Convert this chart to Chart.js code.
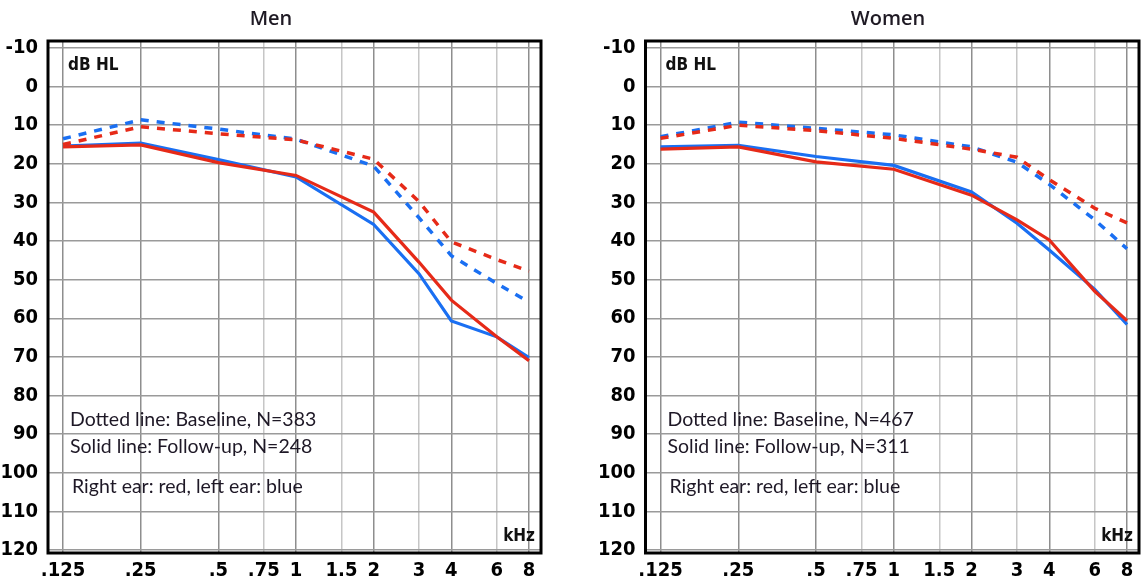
<!DOCTYPE html>
<html>
<head>
<meta charset="utf-8">
<script src="https://cdn.jsdelivr.net/npm/chart.js@4"></script>
<style>
  body { margin: 0; background: #fff; }
  canvas { position: absolute; top: 0; }
  #men { left: 0; }
  #women { left: 572px; }
</style>
</head>
<body>
<canvas id="men" width="572" height="586"></canvas>
<canvas id="women" width="572" height="586"></canvas>
<script>
// DATA
const freqs = [0.125, 0.25, 0.5, 1, 2, 3, 4, 6, 8];
const xTicks = [0.125, 0.25, 0.5, 0.75, 1, 1.5, 2, 3, 4, 6, 8];
const xLabels = ['.125', '.25', '.5', '.75', '1', '1.5', '2', '3', '4', '6', '8'];
const minorTicks = [0.75, 1.5, 3, 6];
const yTicks = [-10, 0, 10, 20, 30, 40, 50, 60, 70, 80, 90, 100, 110, 120];

const menRightBase = [15, 10.4, 12.2, 13.8, 18.8, 29.8, 40.2, 44.8, 47.8];
const menLeftBase = [13.5, 8.6, 11, 13.6, 20.6, 34, 43.8, 51, 55.8];
const menRightFollow = [15.6, 15.1, 19.7, 23, 32.5, 45.5, 55.3, 64.8, 71];
const menLeftFollow = [15.4, 14.6, 18.9, 23.4, 35.7, 48.5, 60.7, 64.8, 70.2];

const womenRightBase = [13.4, 10, 11.4, 13.4, 16.2, 18.3, 24.1, 31.5, 35.3];
const womenLeftBase = [13, 9.2, 10.8, 12.5, 15.6, 19.6, 25.3, 34.5, 42];
const womenRightFollow = [16.2, 15.6, 19.5, 21.4, 28.1, 34.5, 39.7, 53, 60.6];
const womenLeftFollow = [15.6, 15.2, 18.1, 20.4, 27.3, 35.4, 42.3, 52.5, 61.6];

const menNotes = ['Dotted line: Baseline, N=383', 'Solid line: Follow-up, N=248'];
const womenNotes = ['Dotted line: Baseline, N=467', 'Solid line: Follow-up, N=311'];
const earNote = 'Right ear: red, left ear: blue';

const RED = '#e62a18';
const BLUE = '#1a6ff2';
const narrow = '"Liberation Sans Narrow", "DejaVu Sans Condensed", sans-serif';

// frame, titles and notes
const decor = {
    id: 'decor',
    afterDraw(chart, args, opts) {
        const { ctx, chartArea: a } = chart;
        ctx.save();
        ctx.strokeStyle = '#000';
        ctx.lineWidth = 3;
        ctx.strokeRect(a.left, a.top, a.right - a.left, a.bottom - a.top);

        ctx.fillStyle = '#1f1a24';
        ctx.textBaseline = 'middle';
        ctx.font = '600 20px "Open Sans"';
        ctx.textAlign = 'center';
        ctx.fillText(opts.title, opts.titleX, 19);

        ctx.fillStyle = '#111';
        ctx.font = 'bold 17px ' + narrow;
        ctx.textAlign = 'left';
        ctx.fillText('dB HL', a.left + 20, a.top + 25);
        ctx.textAlign = 'right';
        ctx.fillText('kHz', a.right - 6, a.bottom - 16);

        ctx.fillStyle = '#1e1826';
        ctx.font = '19.5px Lato';
        ctx.textAlign = 'left';
        ctx.fillText(opts.notes[0], a.left + 22, a.top + 379);
        ctx.fillText(opts.notes[1], a.left + 22, a.top + 406);
        ctx.fillText(earNote, a.left + 24, a.top + 446);
        ctx.restore();
    }
};

function series(label, values, color, dashed) {
    return {
        label,
        data: freqs.map((f, i) => ({ x: f, y: values[i] })),
        borderColor: color,
        borderWidth: dashed ? 3.5 : 3.2,
        borderDash: dashed ? [8, 8] : [],
        pointRadius: 0,
        tension: 0,
        fill: false
    };
}

function makeChart(id, title, titleX, padLeft, padRight, rb, lb, rf, lf, notes) {
    const tickFont = { family: narrow, size: 20, weight: 'bold' };
    return new Chart(document.getElementById(id), {
        type: 'line',
        data: {
            datasets: [
                series('Right follow-up', rf, RED, false),
                series('Right baseline', rb, RED, true),
                series('Left follow-up', lf, BLUE, false),
                series('Left baseline', lb, BLUE, true)
            ]
        },
        options: {
            responsive: false,
            animation: false,
            layout: { padding: { left: padLeft, right: padRight, top: 41, bottom: 0 } },
            plugins: {
                legend: { display: false },
                tooltip: { enabled: false },
                decor: { title, titleX, notes }
            },
            scales: {
                x: {
                    type: 'logarithmic',
                    min: 0.1093,
                    max: 8.903,
                    afterBuildTicks: s => { s.ticks = xTicks.map(v => ({ value: v })); },
                    afterFit: s => { s.height = 33; },
                    grid: {
                        color: c => minorTicks.includes(c.tick && c.tick.value) ? '#c6c6c6' : '#8e8e8e',
                        lineWidth: 1.5,
                        drawTicks: false
                    },
                    border: { display: false },
                    ticks: {
                        autoSkip: false,
                        maxRotation: 0,
                        padding: 6,
                        color: '#000',
                        font: tickFont,
                        callback: (v, i) => xLabels[i]
                    }
                },
                y: {
                    reverse: true,
                    min: -11.81,
                    max: 120.78,
                    afterBuildTicks: s => { s.ticks = yTicks.map(v => ({ value: v })); },
                    afterFit: s => { s.width = 48; },
                    grid: { color: '#9a9a9a', lineWidth: 1.5, drawTicks: false },
                    border: { display: false },
                    ticks: {
                        padding: 10,
                        color: '#000',
                        font: tickFont,
                        callback: v => String(v)
                    }
                }
            }
        },
        plugins: [decor]
    });
}

makeChart('men', 'Men', 271, 0, 31, menRightBase, menLeftBase, menRightFollow, menLeftFollow, menNotes);
makeChart('women', 'Women', 316, 25.5, 5, womenRightBase, womenLeftBase, womenRightFollow, womenLeftFollow, womenNotes);
</script>
</body>
</html>
